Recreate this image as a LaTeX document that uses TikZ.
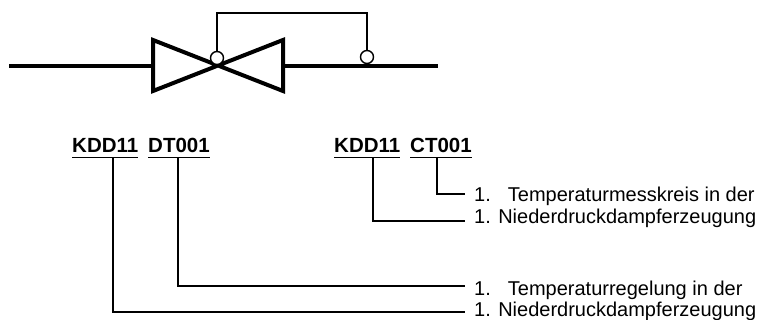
\documentclass[tikz,border=0pt]{standalone}
\usepackage{fontspec}
\setmainfont{Liberation Sans}
\begin{document}
\begin{tikzpicture}[x=1pt,y=-1pt,
  pipe/.style={line width=4.8pt},
  valvebody/.style={line width=4pt,line join=miter},
  thin/.style={line width=1.4pt},
  conn/.style={line width=1.5pt},
  ul/.style={line width=1.7pt},
  sensor/.style={circle,draw,line width=1.4pt,fill=white,minimum size=13pt,inner sep=0pt},
  lab/.style={font=\fontsize{20.5}{24}\selectfont\bfseries,inner sep=0pt,anchor=base west},
  desc/.style={font=\fontsize{20}{24}\selectfont,inner sep=0pt,anchor=base west}]
\useasboundingbox (0,0) rectangle (759,320);
% pipe and valve
\coordinate (pl) at (9,66);
\coordinate (pr) at (438,66);
\draw[pipe] (pl) -- (153,66);
\draw[pipe] (283,66) -- (pr);
\draw[valvebody] (153,40) -- (153,91) -- (283,40) -- (283,91) -- cycle;
% sensors and impulse line
\node[sensor] (s1) at (217,58) {};
\node[sensor] (s2) at (367,57) {};
\draw[thin] (s1.north) -- (217,13) -| (s2.north);
% labels
\node[lab] (k1) at (72,153) {KDD11};
\node[lab] (t1) at (148,153) {DT001};
\node[lab] (k2) at (334,153) {KDD11};
\node[lab] (t2) at (410,153) {CT001};
\foreach \n in {k1,t1,k2,t2}
  \draw[ul] ([yshift=-4.5pt]\n.base west) -- ([yshift=-4.5pt]\n.base east);
% descriptions
\node[desc] (d1) at (474,202) {1.\hspace{17pt}Temperaturmesskreis in der};
\node[desc] (d2) at (474,223) {1. Niederdruckdampferzeugung};
\node[desc] (d3) at (474,295) {1.\hspace{17pt}Temperaturregelung in der};
\node[desc] (d4) at (474,316) {1. Niederdruckdampferzeugung};
% connector ends
\coordinate (e1) at (465,194);
\coordinate (e2) at (465,221);
\coordinate (e3) at (465,286);
\coordinate (e4) at (465,312);
\draw[conn] ([xshift=27pt,yshift=-4.5pt]t2.base west) |- (e1);
\draw[conn] ([xshift=39pt,yshift=-4.5pt]k2.base west) |- (e2);
\draw[conn] ([xshift=30pt,yshift=-4.5pt]t1.base west) |- (e3);
\draw[conn] ([xshift=41pt,yshift=-4.5pt]k1.base west) |- (e4);
\end{tikzpicture}
\end{document}
